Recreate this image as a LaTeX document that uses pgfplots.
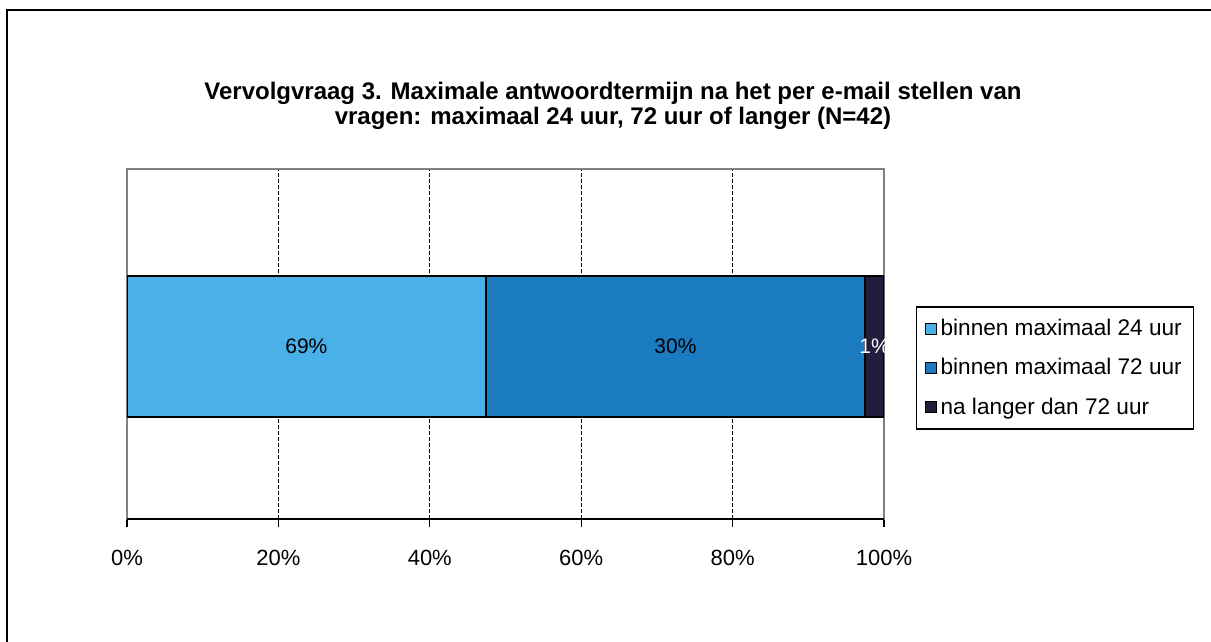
\documentclass[border=0pt]{standalone}
\usepackage{pgfplots}
\pgfplotsset{compat=1.18}
\usepackage{fontspec}
\setmainfont{Liberation Sans}

\definecolor{c24}{RGB}{74,176,232}
\definecolor{c72}{RGB}{26,123,192}
\definecolor{clong}{RGB}{32,30,60}

\begin{document}
\begin{tikzpicture}
\useasboundingbox (0,0) rectangle (605.5pt,-321pt);
% outer chart frame (only top and left edges are in view)
\draw[line width=1pt] (605.5pt,-5pt) -- (3.5pt,-5pt) -- (3.5pt,-321pt);
\node[font=\bfseries\fontsize{12}{12.5}\selectfont, align=center] at (306.5pt,-53pt)
  {Vervolgvraag 3. Maximale antwoordtermijn na het per e-mail stellen van\\vragen: maximaal 24 uur, 72 uur of langer (N=42)};
\begin{axis}[
    at={(63.5pt,-259.5pt)}, anchor=south west,
    scale only axis,
    width=378.5pt, height=175pt,
    xbar stacked, bar width=70.5pt,
    xmin=0, xmax=100, ymin=0, ymax=1,
    ytick=\empty,
    xtick={0,20,40,60,80,100},
    xticklabels={0\%,20\%,40\%,60\%,80\%,100\%},
    xtick pos=bottom, tick align=outside,
    major tick length=4pt,
    tick style={black, line width=0.6pt},
    xticklabel style={font=\fontsize{11}{12}\selectfont, yshift=-8pt},
    axis line style={draw=gray, line width=0.6pt},
    xmajorgrids,
    grid style={black, line width=0.5pt, dash pattern=on 2pt off 1pt},
    every axis plot/.append style={draw=black, line width=0.7pt,
      legend image code/.code={\draw[##1, draw=black, line width=0.5pt] (0pt,-2.75pt) rectangle (5.5pt,2.75pt);}},
    legend style={at={(axis description cs:1,0.5)}, anchor=west, xshift=16pt, yshift=-12pt,
      draw=black, line width=0.6pt, font=\fontsize{11.3}{12}\selectfont,
      row sep=6pt, inner xsep=4pt, inner ysep=4pt,
      nodes={inner xsep=2pt}},
    legend cell align=left,
]
\addplot[fill=c24] coordinates {(47.4,0.493)};
\addlegendentry{binnen maximaal 24 uur}
\addplot[fill=c72] coordinates {(50.1,0.493)};
\addlegendentry{binnen maximaal 72 uur}
\addplot[fill=clong] coordinates {(2.5,0.493)};
\addlegendentry{na langer dan 72 uur}
\coordinate (l1) at (axis cs:23.7,0.493);
\coordinate (l2) at (axis cs:72.45,0.493);
\coordinate (l3) at (axis cs:98.75,0.493);
\coordinate (b0) at (rel axis cs:0,0);
\coordinate (b1) at (rel axis cs:1,0);
\end{axis}
\draw[line width=1pt] (b0) -- (b1);
\node[font=\fontsize{10.5}{12}\selectfont] at (l1) {69\%};
\node[font=\fontsize{10.5}{12}\selectfont] at (l2) {30\%};
\node[font=\fontsize{10.5}{12}\selectfont, white] at (l3) {1\%};
\end{tikzpicture}
\end{document}
